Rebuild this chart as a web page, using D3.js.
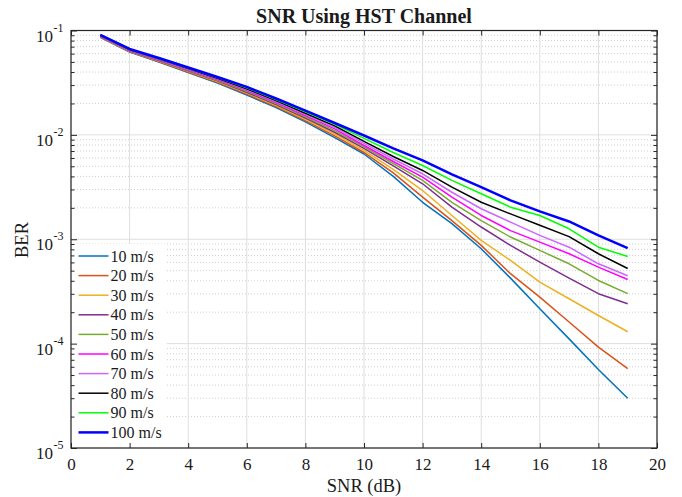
<!DOCTYPE html>
<html>
<head>
<meta charset="utf-8">
<script src="https://cdn.jsdelivr.net/npm/d3@7"></script>
<style>
  body { margin: 0; background: #fff; }
  svg text { font-family: "Liberation Serif", "Times New Roman", serif; fill: #1a1a1a; }
</style>
</head>
<body>
<div id="chart"></div>
<script>
// ---- Data ----
const snr = [1, 2, 3, 4, 5, 6, 7, 8, 9, 10, 11, 12, 13, 14, 15, 16, 17, 18, 19];

const speeds = ["10 m/s", "20 m/s", "30 m/s", "40 m/s", "50 m/s", "60 m/s", "70 m/s", "80 m/s", "90 m/s", "100 m/s"];

const ber10  = [0.086, 0.0622, 0.0499, 0.0396, 0.0314, 0.0241, 0.0183, 0.0133, 0.0094, 0.00656, 0.0040, 0.00226, 0.00141, 0.000811, 0.000424, 0.000216, 0.000111, 0.0000566, 0.000030];
const ber20  = [0.0865, 0.0627, 0.0504, 0.0401, 0.0319, 0.0246, 0.0187, 0.0137, 0.0098, 0.00678, 0.00432, 0.00253, 0.00151, 0.000873, 0.000468, 0.000279, 0.000161, 0.0000925, 0.0000575];
const ber30  = [0.087, 0.0632, 0.051, 0.0406, 0.0324, 0.0251, 0.0191, 0.0141, 0.0102, 0.0071, 0.00467, 0.00293, 0.00169, 0.000975, 0.000627, 0.000388, 0.000269, 0.000186, 0.00013];
const ber40  = [0.0875, 0.0637, 0.0515, 0.0411, 0.0329, 0.0256, 0.0195, 0.0145, 0.0106, 0.00741, 0.00504, 0.0034, 0.00203, 0.00131, 0.000873, 0.000604, 0.000424, 0.000301, 0.000241];
const ber50  = [0.088, 0.0642, 0.052, 0.0416, 0.0334, 0.0262, 0.0200, 0.0149, 0.0110, 0.00766, 0.00532, 0.00366, 0.00226, 0.00151, 0.00105, 0.000782, 0.000582, 0.000403, 0.000301];
const ber60  = [0.0885, 0.0647, 0.0525, 0.0421, 0.0339, 0.0267, 0.0204, 0.0153, 0.0114, 0.00791, 0.00556, 0.00394, 0.00253, 0.00169, 0.00121, 0.000938, 0.000726, 0.000541, 0.000412];
const ber70  = [0.089, 0.0652, 0.053, 0.0426, 0.0344, 0.0272, 0.0209, 0.0157, 0.0118, 0.00828, 0.00587, 0.00424, 0.00282, 0.00196, 0.00146, 0.00109, 0.000839, 0.000582, 0.000447];
const ber80  = [0.090, 0.0657, 0.0535, 0.0432, 0.0349, 0.0277, 0.0213, 0.0161, 0.0122, 0.00865, 0.00621, 0.00456, 0.00316, 0.00226, 0.00175, 0.00136, 0.00106, 0.000726, 0.000525];
const ber90  = [0.0905, 0.0661, 0.054, 0.0437, 0.0354, 0.0283, 0.0218, 0.0166, 0.0126, 0.00925, 0.00678, 0.00509, 0.00366, 0.00273, 0.00203, 0.00169, 0.00126, 0.000839, 0.000684];
const ber100 = [0.091, 0.0665, 0.0546, 0.0442, 0.0359, 0.0288, 0.0223, 0.0171, 0.0130, 0.00986, 0.00741, 0.00569, 0.00418, 0.00316, 0.00236, 0.00185, 0.00148, 0.00109, 0.000822];

const xTicks = [0, 2, 4, 6, 8, 10, 12, 14, 16, 18, 20];
const yDecades = [1e-5, 1e-4, 1e-3, 1e-2, 1e-1];
const yExponents = ["-5", "-4", "-3", "-2", "-1"];

const colors = ["#0072BD", "#D95319", "#EDB120", "#7E2F8E", "#77AC30", "#FF00FF", "#CC66FF", "#000000", "#00FF00", "#0000FF"];
const widths = [1.5, 1.5, 1.5, 1.5, 1.5, 1.5, 1.5, 1.5, 1.5, 2.5];

const series = [ber10, ber20, ber30, ber40, ber50, ber60, ber70, ber80, ber90, ber100]
    .map((vals, i) => ({
        name: speeds[i],
        color: colors[i],
        width: widths[i],
        values: vals.map((v, j) => ({ snr: snr[j], ber: v }))
    }));

// ---- Layout ----
const W = 682, H = 497;
const margin = { top: 30.5, right: 25, bottom: 49, left: 71 };
const innerW = W - margin.left - margin.right;
const innerH = H - margin.top - margin.bottom;

const svg = d3.select("#chart").append("svg")
    .attr("width", W)
    .attr("height", H);

const g = svg.append("g")
    .attr("transform", `translate(${margin.left}, ${margin.top})`);

// ---- Scales ----
const x = d3.scaleLinear().domain([0, 20]).range([0, innerW]);
const y = d3.scaleLog().domain([1e-5, 1e-1]).range([innerH, 0]);

const minorVals = [];
yDecades.slice(0, -1).forEach(d => {
    for (let k = 2; k <= 9; k++) minorVals.push(d * k);
});

// ---- Grid ----
g.append("g")
    .selectAll("line")
    .data(minorVals)
    .enter()
    .append("line")
    .attr("x1", 0)
    .attr("x2", innerW)
    .attr("y1", d => y(d))
    .attr("y2", d => y(d))
    .attr("stroke", "#cfcfcf")
    .attr("stroke-dasharray", "1,2");

g.append("g")
    .selectAll("line")
    .data(yDecades)
    .enter()
    .append("line")
    .attr("x1", 0)
    .attr("x2", innerW)
    .attr("y1", d => y(d))
    .attr("y2", d => y(d))
    .attr("stroke", "#dedede");

g.append("g")
    .selectAll("line")
    .data(xTicks)
    .enter()
    .append("line")
    .attr("x1", d => x(d))
    .attr("x2", d => x(d))
    .attr("y1", 0)
    .attr("y2", innerH)
    .attr("stroke", "#dedede");

// ---- Lines ----
const line = d3.line()
    .x(d => x(d.snr))
    .y(d => y(d.ber));

g.append("g")
    .selectAll("path")
    .data(series)
    .enter()
    .append("path")
    .attr("d", d => line(d.values))
    .attr("fill", "none")
    .attr("stroke", d => d.color)
    .attr("stroke-width", d => d.width)
    .attr("stroke-linejoin", "round");

// ---- Legend ----
const legend = g.append("g")
    .attr("transform", `translate(0.5, ${innerH - 204})`);

legend.append("rect")
    .attr("x", 0)
    .attr("y", 0)
    .attr("width", 95)
    .attr("height", 203)
    .attr("fill", "#fff");

const entry = legend.selectAll(".entry")
    .data(series)
    .enter()
    .append("g")
    .attr("transform", (d, i) => `translate(0, ${12 + i * 19.6})`);

entry.append("line")
    .attr("x1", 7)
    .attr("x2", 37)
    .attr("stroke", d => d.color)
    .attr("stroke-width", d => d.width);

entry.append("text")
    .attr("x", 39)
    .attr("y", 5.5)
    .style("font-size", "16px")
    .text(d => d.name);

// ---- Axes ----
const axisColor = "#262626";

function styleAxis(sel) {
    sel.select(".domain").remove();
    sel.selectAll("line").attr("stroke", axisColor);
    sel.selectAll("text")
        .style("font-family", "Liberation Serif, serif")
        .style("font-size", "17px")
        .attr("fill", "#1a1a1a");
}

g.append("g")
    .attr("transform", `translate(0, ${innerH})`)
    .call(d3.axisBottom(x).tickValues(xTicks).tickSizeInner(-5).tickSizeOuter(0).tickPadding(10))
    .call(styleAxis);

g.append("g")
    .call(d3.axisTop(x).tickValues(xTicks).tickSizeInner(-5).tickSizeOuter(0).tickFormat(""))
    .call(styleAxis);

g.append("g")
    .call(d3.axisLeft(y).tickValues(yDecades).tickSizeInner(-6).tickSizeOuter(0).tickFormat(""))
    .call(styleAxis);

g.append("g")
    .call(d3.axisLeft(y).tickValues(minorVals).tickSizeInner(-3.5).tickSizeOuter(0).tickFormat(""))
    .call(styleAxis);

g.append("g")
    .attr("transform", `translate(${innerW}, 0)`)
    .call(d3.axisRight(y).tickValues(yDecades).tickSizeInner(-6).tickSizeOuter(0).tickFormat(""))
    .call(styleAxis);

g.append("g")
    .attr("transform", `translate(${innerW}, 0)`)
    .call(d3.axisRight(y).tickValues(minorVals).tickSizeInner(-3.5).tickSizeOuter(0).tickFormat(""))
    .call(styleAxis);

// box
g.append("rect")
    .attr("x", 0)
    .attr("y", 0)
    .attr("width", innerW)
    .attr("height", innerH)
    .attr("fill", "none")
    .attr("stroke", axisColor)
    .attr("stroke-width", 1.2);

// y tick labels 10^n
const yLab = g.append("g");
yLab.selectAll(".base")
    .data(yDecades)
    .enter()
    .append("text")
    .attr("x", -18)
    .attr("y", d => y(d) + 11)
    .attr("text-anchor", "end")
    .style("font-size", "17px")
    .text("10");

yLab.selectAll(".exp")
    .data(yDecades)
    .enter()
    .append("text")
    .attr("x", -17.5)
    .attr("y", (d, i) => y(d) + 1)
    .style("font-size", "12px")
    .text((d, i) => yExponents[i]);

// ---- Titles ----
svg.append("text")
    .attr("x", margin.left + innerW / 2)
    .attr("y", 23)
    .attr("text-anchor", "middle")
    .style("font-size", "20px")
    .style("font-weight", "bold")
    .text("SNR Using HST Channel");

svg.append("text")
    .attr("x", margin.left + innerW / 2)
    .attr("y", 492)
    .attr("text-anchor", "middle")
    .style("font-size", "18.5px")
    .text("SNR (dB)");

svg.append("text")
    .attr("transform", "rotate(-90)")
    .attr("x", -240)
    .attr("y", 28)
    .attr("text-anchor", "middle")
    .style("font-size", "18.5px")
    .text("BER");
</script>
</body>
</html>
